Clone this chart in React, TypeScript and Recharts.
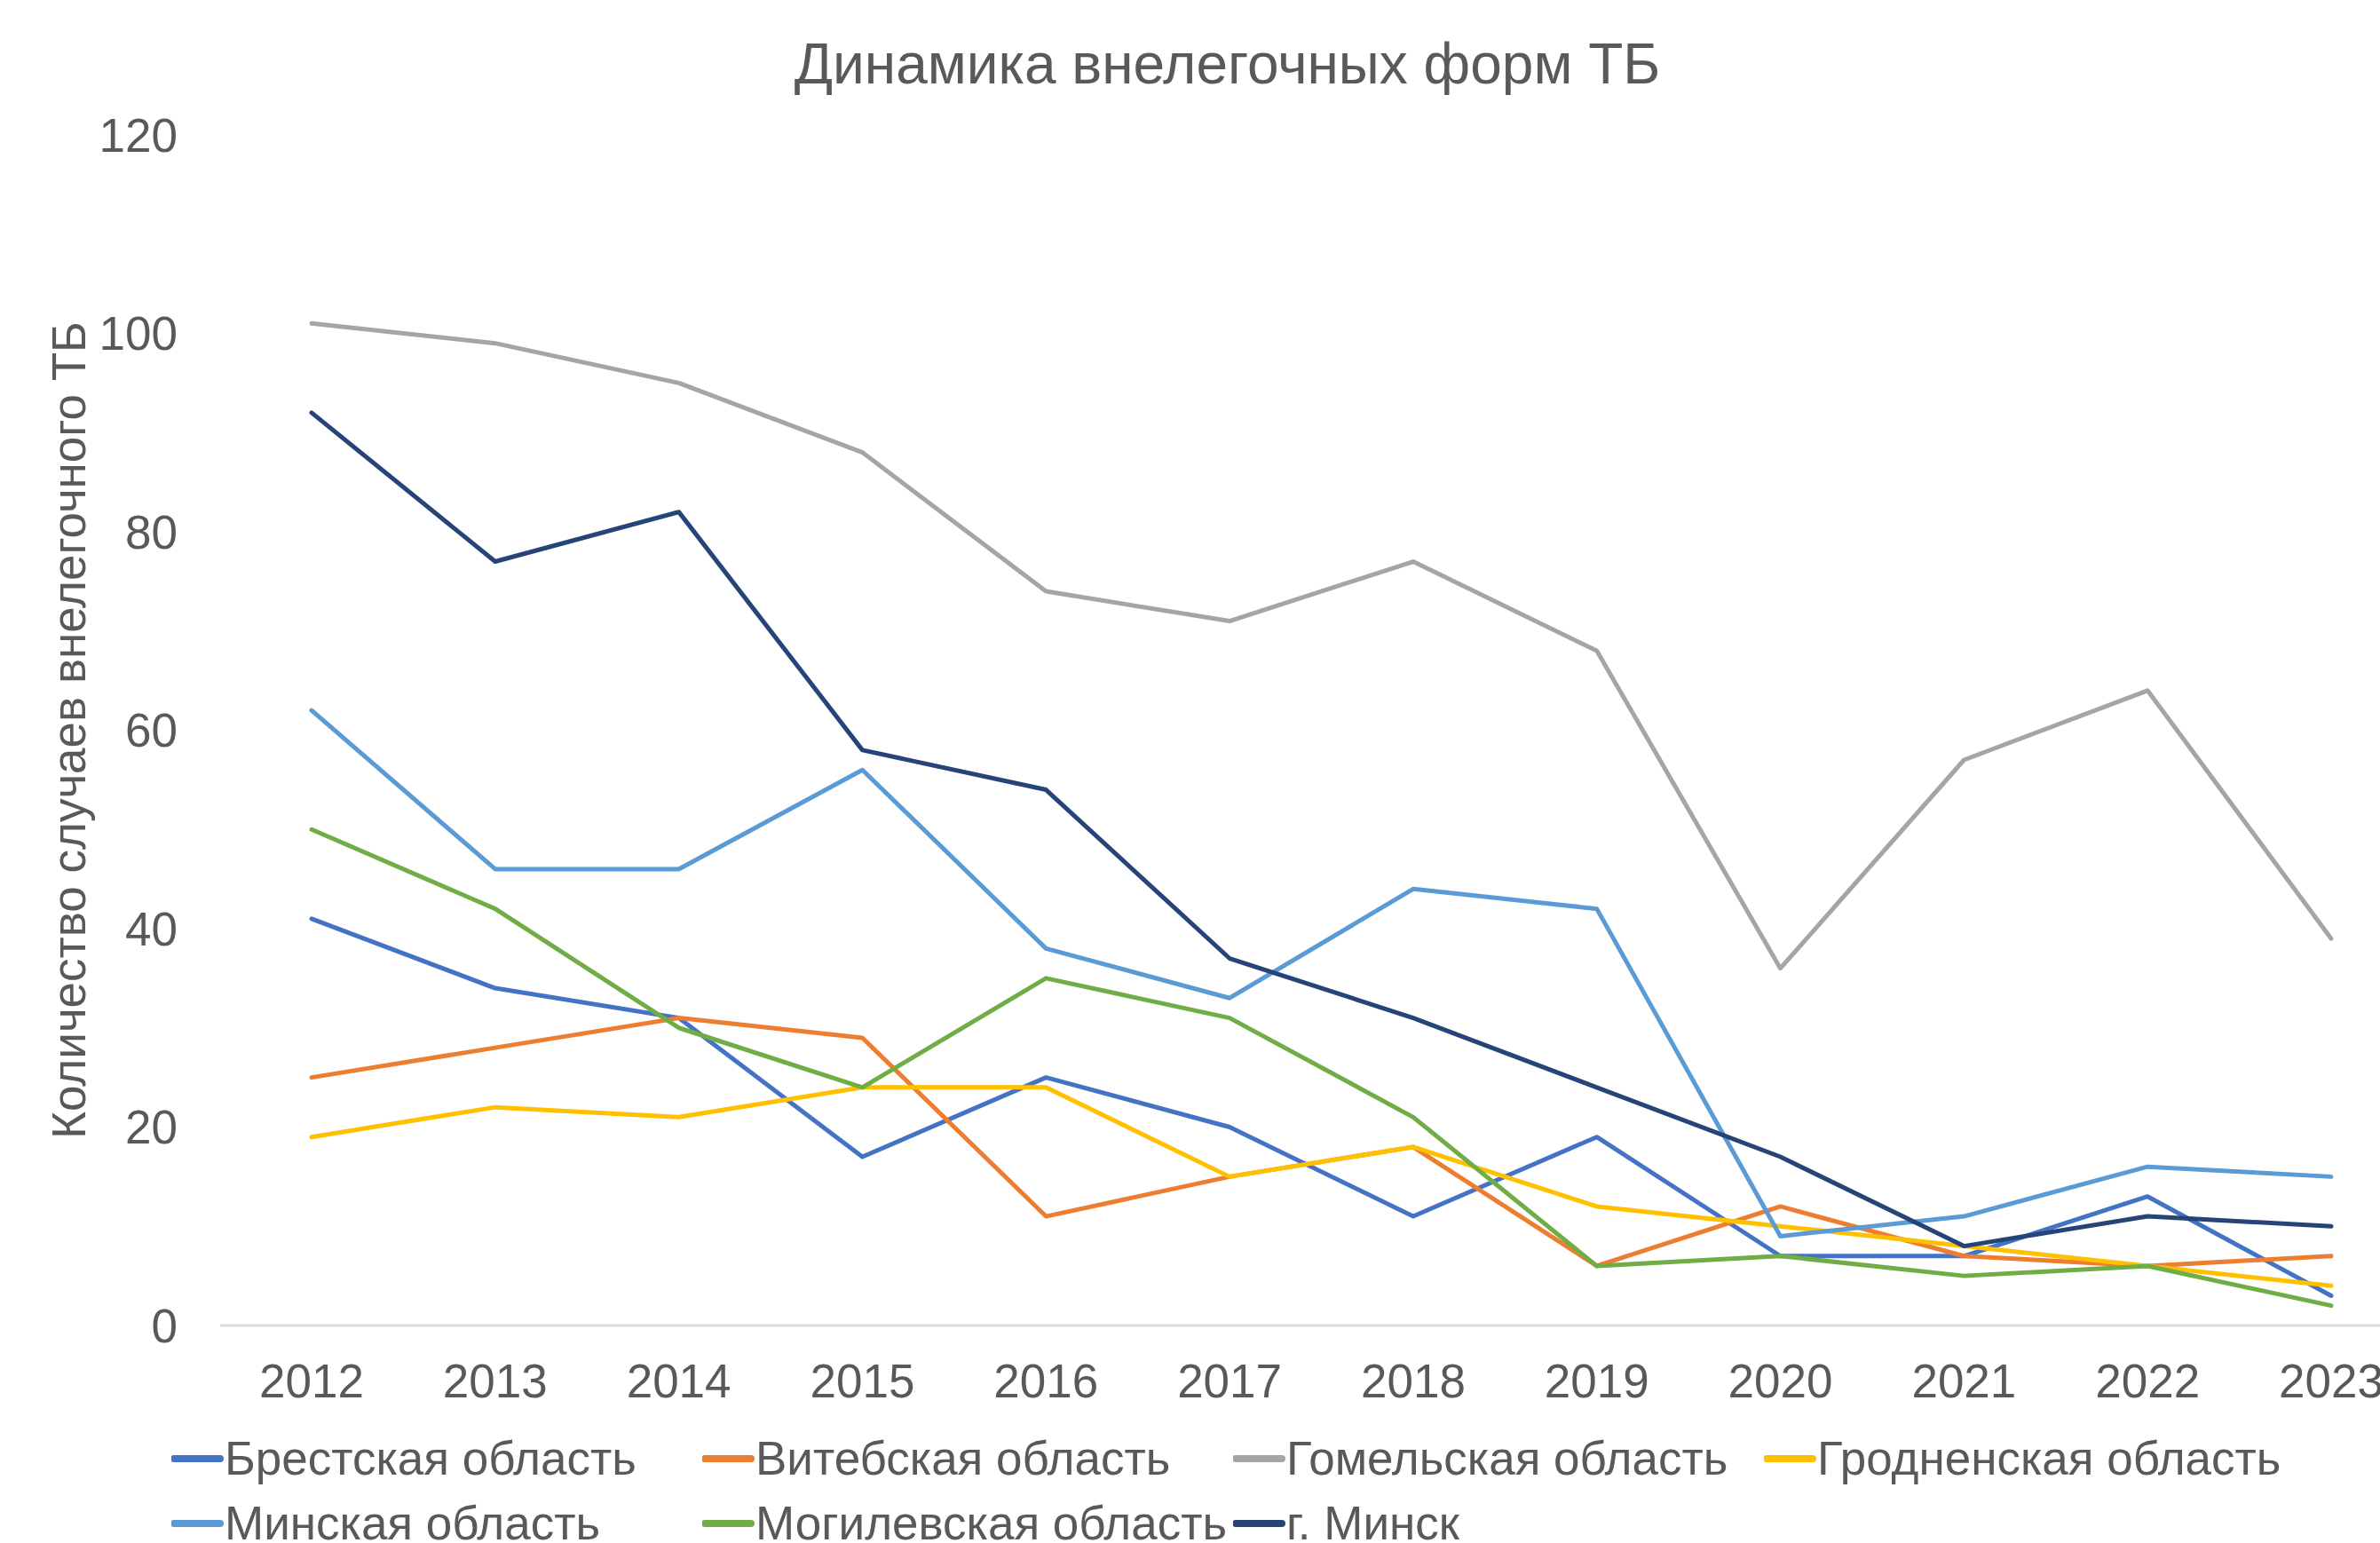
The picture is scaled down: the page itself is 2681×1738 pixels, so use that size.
import { LineChart, Line, XAxis, YAxis } from "recharts";

const YEARS = ["2012", "2013", "2014", "2015", "2016", "2017", "2018", "2019", "2020", "2021", "2022", "2023"];

const BREST = [41, 34, 31, 17, 25, 20, 11, 19, 7, 7, 13, 3];
const VITEBSK = [25, 28, 31, 29, 11, 15, 18, 6, 12, 7, 6, 7];
const GOMEL = [101, 99, 95, 88, 74, 71, 77, 68, 36, 57, 64, 39];
const GRODNO = [19, 22, 21, 24, 24, 15, 18, 12, 10, 8, 6, 4];
const MINSK_REGION = [62, 46, 46, 56, 38, 33, 44, 42, 9, 11, 16, 15];
const MOGILEV = [50, 42, 30, 24, 35, 31, 21, 6, 7, 5, 6, 2];
const MINSK_CITY = [92, 77, 82, 58, 54, 37, 31, 24, 17, 8, 11, 10];

const Y_TICKS = [0, 20, 40, 60, 80, 100, 120];

const SERIES = [
  { key: "brest", name: "Брестская область", color: "#4472C4", values: BREST },
  { key: "vitebsk", name: "Витебская область", color: "#ED7D31", values: VITEBSK },
  { key: "gomel", name: "Гомельская область", color: "#A5A5A5", values: GOMEL },
  { key: "grodno", name: "Гродненская область", color: "#FFC000", values: GRODNO },
  { key: "minskRegion", name: "Минская область", color: "#5B9BD5", values: MINSK_REGION },
  { key: "mogilev", name: "Могилевская область", color: "#70AD47", values: MOGILEV },
  { key: "minskCity", name: "г. Минск", color: "#264478", values: MINSK_CITY },
];

const data = YEARS.map((year, i) => {
  const row: Record<string, string | number> = { year };
  SERIES.forEach((s) => {
    row[s.key] = s.values[i];
  });
  return row;
});

const FONT = '"Liberation Sans", Arial, sans-serif';
const TEXT = "#595959";
const FONT_SIZE = 53;

function YLabel(props: any) {
  const vb = props.viewBox || { y: 152, height: 1341 };
  const cy = vb.y + vb.height / 2;
  return (
    <text
      x={77}
      y={cy}
      transform={`rotate(-90, 77, ${cy})`}
      textAnchor="middle"
      dominantBaseline="central"
      fill={TEXT}
      fontSize={FONT_SIZE}
      fontFamily={FONT}
    >
      Количество случаев внелегочного ТБ
    </text>
  );
}

export default function App() {
  return (
    <div
      style={{
        position: "absolute",
        left: 0,
        top: 0,
        width: 2681,
        height: 1738,
        overflow: "hidden",
        background: "#fff",
        fontFamily: FONT,
      }}
    >
      <div
        style={{
          position: "absolute",
          left: 0,
          width: 2765,
          top: 36,
          textAlign: "center",
          fontSize: 64,
          lineHeight: "72px",
          color: TEXT,
        }}
      >
        Динамика внелегочных форм ТБ
      </div>

      <LineChart
        width={2740}
        height={1738}
        data={data}
        margin={{ top: 152, right: 11, left: 128, bottom: 185 }}
        style={{ position: "absolute", left: 0, top: 0 }}
      >
        <XAxis
          dataKey="year"
          height={60}
          padding={{ left: 103, right: 103 }}
          tickLine={false}
          tickMargin={37}
          axisLine={{ stroke: "#D9D9D9", strokeWidth: 3 }}
          tick={{ fontSize: FONT_SIZE, fill: TEXT, fontFamily: FONT }}
          interval={0}
        />
        <YAxis
          width={120}
          domain={[0, 120]}
          ticks={Y_TICKS}
          axisLine={false}
          tickLine={false}
          tickMargin={42}
          tick={{ fontSize: FONT_SIZE, fill: TEXT, fontFamily: FONT }}
          label={<YLabel />}
        />
        {SERIES.map((s) => (
          <Line
            key={s.key}
            type="linear"
            dataKey={s.key}
            name={s.name}
            stroke={s.color}
            strokeWidth={5}
            strokeLinejoin="round"
            strokeLinecap="round"
            dot={false}
            activeDot={false}
            isAnimationActive={false}
          />
        ))}
      </LineChart>

      <div
        style={{
          position: "absolute",
          left: 193,
          top: 1606,
          width: 2500,
          display: "flex",
          flexWrap: "wrap",
        }}
      >
        {SERIES.map((s) => (
          <div
            key={s.key}
            style={{
              width: 598,
              height: 73,
              display: "flex",
              alignItems: "center",
              whiteSpace: "nowrap",
            }}
          >
            <svg width={60} height={10} style={{ flexShrink: 0 }}>
              <line x1={3} y1={5} x2={55} y2={5} stroke={s.color} strokeWidth={8} strokeLinecap="round" />
            </svg>
            <span style={{ fontSize: FONT_SIZE, color: TEXT, lineHeight: "73px" }}>{s.name}</span>
          </div>
        ))}
      </div>
    </div>
  );
}
